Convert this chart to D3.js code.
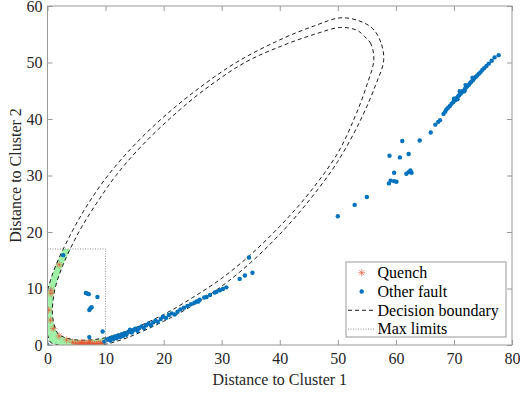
<!DOCTYPE html>
<html>
<head>
<meta charset="utf-8">
<script src="https://cdn.jsdelivr.net/npm/d3@7"></script>
<style>
  body { margin: 0; background: #fff; }
  svg text { font-family: 'Liberation Serif', 'Times New Roman', serif; }
</style>
</head>
<body>
<div id="chart"></div>
<script>
const xTicks = [0, 10, 20, 30, 40, 50, 60, 70, 80];
const yTicks = [0, 10, 20, 30, 40, 50, 60];
const legendLabels = ['Quench', 'Other fault', 'Decision boundary', 'Max limits'];
const maxLimits = [10, 17];

// quench samples [d1, d2]
const quench = [
  [2.0, 14.2], [0.6, 9.7], [0.6, 9.1], [0.2, 6.2], [0.5, 4.4], [1.0, 2.9], [2.0, 1.6],
  [3.3, 0.9], [4.3, 0.5], [4.8, 0.3], [5.2, 0.2], [5.6, 0.35], [6.0, 0.15], [6.3, 0.3],
  [6.7, 0.2], [7.0, 0.35], [7.4, 0.2], [7.8, 0.3], [8.1, 0.15], [8.5, 0.3], [8.8, 0.25],
  [9.2, 0.35], [9.5, 0.3], [5.9, 0.45], [7.2, 0.5]
];

// other fault samples [d1, d2]
const other = [
  [0, 0], [2.7, 15.9],
  [6.6, 9.2], [6.9, 9.1], [7.1, 9.0], [8.6, 8.5], [7.2, 6.2], [7.4, 6.5], [7.6, 6.7],
  [7.2, 1.4], [9.5, 2.4],
  [9.8, 0.6], [10.2, 0.9], [10.5, 1.1], [10.8, 0.8], [11.0, 1.3], [11.3, 1.0], [11.6, 1.5],
  [11.9, 1.2], [12.2, 1.7], [12.5, 1.4], [12.8, 1.9], [13.0, 1.6], [13.3, 2.1], [13.6, 1.8],
  [13.9, 2.3], [14.2, 2.7], [14.5, 2.2], [14.8, 2.6], [15.1, 2.9], [15.5, 2.5], [15.8, 3.0],
  [16.2, 3.3], [16.6, 3.0], [17.0, 3.5], [17.4, 3.8], [17.8, 3.5], [18.2, 4.0], [18.6, 4.3],
  [19.0, 4.1], [19.5, 4.6], [19.9, 5.0], [20.4, 4.8], [20.9, 5.3], [21.4, 5.6], [21.9, 5.4],
  [22.4, 5.9], [22.9, 6.3], [23.5, 6.6], [24.1, 6.9], [24.7, 7.2], [25.3, 7.5], [25.7, 7.7],
  [26.0, 7.7], [26.2, 8.0], [27.0, 8.4], [27.4, 8.5], [28.0, 8.85], [28.8, 9.3], [29.1, 9.4],
  [29.7, 9.7], [30.2, 9.9], [30.8, 10.2], [33.1, 11.7], [34.0, 12.3], [35.3, 12.8], [34.7, 15.5],
  [50.0, 22.8], [52.9, 24.8], [55.0, 26.2],
  [58.8, 28.6], [59.1, 29.1], [59.7, 29.0], [60.1, 28.9], [59.7, 30.5], [61.8, 30.3],
  [62.2, 30.6], [62.5, 30.9], [62.7, 30.5], [58.9, 33.5], [60.7, 33.2], [62.2, 33.8],
  [61.1, 36.1], [64.1, 36.2], [66.0, 37.6],
  [66.8, 39.0], [67.3, 39.5], [67.6, 39.8], [68.2, 40.9], [68.5, 41.3], [68.7, 41.7],
  [69.0, 42.0], [69.3, 42.3], [69.6, 42.7], [69.9, 43.0], [70.2, 43.3], [70.4, 43.7],
  [70.7, 44.0], [70.9, 44.2], [71.2, 44.5], [71.4, 44.8], [71.6, 45.0], [71.9, 45.3],
  [72.1, 45.6], [72.3, 45.8], [72.6, 46.1], [72.8, 46.4], [73.0, 46.6], [73.3, 46.9],
  [73.5, 47.2], [73.8, 47.5], [74.0, 47.7], [74.3, 48.0], [74.6, 48.3], [74.9, 48.7],
  [75.2, 49.0], [75.6, 49.4], [76.0, 49.8], [76.5, 50.3], [77.0, 50.9], [77.7, 51.3],
  [70.0, 43.6], [71.0, 44.9], [72.0, 46.0], [73.2, 47.3], [71.8, 44.9], [70.6, 43.5]
];

// decision boundary, outer and inner contour [d1, d2]
const outerBoundary = [
  [57.9, 50.4], [57.4, 53.6], [56, 56], [53.6, 57.4], [50.4, 57.9], [46, 56.5], [40, 54],
  [32.5, 50], [25.5, 45], [19.6, 40], [14.6, 35], [10.4, 30], [7.0, 25], [4.2, 20],
  [1.4, 14], [0.1, 10], [-0.45, 7], [-0.5, 5], [-0.3, 3], [0.1, 1.5], [0.5, 0.5],
  [1.5, 0.1], [3, -0.3], [5, -0.5], [7, -0.45], [10, 0.1], [14, 1.4], [20, 4.2], [25, 7.0],
  [30, 10.4], [35, 14.6], [40, 19.6], [45, 25.5], [50, 32.5], [54, 40], [56.5, 46]
];
const innerBoundary = [
  [56.2, 50.5], [55.7, 53.3], [54.6, 54.6], [53.3, 55.7], [50.5, 56.2], [46, 55], [40.5, 53],
  [34, 50], [26.8, 45], [21, 40], [16, 35], [11.8, 30], [8.4, 25], [5.4, 20], [2.6, 14],
  [1.3, 10], [0.9, 7.3], [0.85, 5.5], [1.05, 4], [1.4, 2.8], [1.9, 1.9], [2.8, 1.4],
  [4, 1.05], [5.5, 0.85], [7.3, 0.9], [10, 1.3], [14, 2.6], [20, 5.4], [25, 8.4], [30, 11.8],
  [35, 16], [40, 21], [45, 26.8], [50, 34], [53, 40.5], [55, 46]
];

const width = 520;
const height = 395;
const margin = {top: 6, right: 8, bottom: 50, left: 47.5};

const svg = d3.select('#chart').append('svg')
  .attr('width', width)
  .attr('height', height);

const x = d3.scaleLinear().domain([0, 80]).range([margin.left, width - margin.right]);
const y = d3.scaleLinear().domain([0, 60]).range([height - margin.bottom, margin.top]);

const defs = svg.append('defs');
defs.append('clipPath').attr('id', 'plot-clip')
  .append('rect')
  .attr('x', x(0)).attr('y', y(60))
  .attr('width', x(80) - x(0)).attr('height', y(0) - y(60));
defs.append('clipPath').attr('id', 'box-clip')
  .append('rect')
  .attr('x', x(0)).attr('y', y(maxLimits[1]))
  .attr('width', x(maxLimits[0]) - x(0)).attr('height', y(0) - y(maxLimits[1]));

const contour = d3.line()
  .x(d => x(d[0]))
  .y(d => y(d[1]))
  .curve(d3.curveCatmullRomClosed);

// green band between the two contours inside the max limits
svg.append('path')
  .attr('clip-path', 'url(#box-clip)')
  .attr('d', contour(outerBoundary) + contour(innerBoundary))
  .attr('fill', 'rgb(160,242,168)')
  .attr('fill-rule', 'evenodd');

const plot = svg.append('g').attr('clip-path', 'url(#plot-clip)');

plot.selectAll('path.boundary')
  .data([outerBoundary, innerBoundary])
  .join('path')
  .attr('class', 'boundary')
  .attr('d', d => contour(d))
  .attr('fill', 'none')
  .attr('stroke', '#000')
  .attr('stroke-width', 0.9)
  .attr('stroke-dasharray', '4,3');

plot.append('path')
  .attr('d', `M${x(0)},${y(maxLimits[1])}H${x(maxLimits[0])}V${y(0)}`)
  .attr('fill', 'none')
  .attr('stroke', '#808080')
  .attr('stroke-width', 0.9)
  .attr('stroke-dasharray', '1,1.5');

const star = r => `M${-r},0H${r}M0,${-r}V${r}M${-0.7 * r},${-0.7 * r}L${0.7 * r},${0.7 * r}M${-0.7 * r},${0.7 * r}L${0.7 * r},${-0.7 * r}`;

plot.append('g')
  .selectAll('path')
  .data(quench)
  .join('path')
  .attr('transform', d => `translate(${x(d[0])},${y(d[1])})`)
  .attr('d', star(3.6))
  .attr('fill', 'none')
  .attr('stroke', '#ee5030')
  .attr('stroke-opacity', 0.6)
  .attr('stroke-width', 1);

plot.append('g')
  .selectAll('circle')
  .data(other)
  .join('circle')
  .attr('cx', d => x(d[0]))
  .attr('cy', d => y(d[1]))
  .attr('r', 2.2)
  .attr('fill', '#0072BD');

// axes, ticks inside on all four sides
const axisColor = '#999';
svg.append('g')
  .attr('transform', `translate(0,${y(0)})`)
  .call(d3.axisBottom(x).tickValues(xTicks).tickSizeInner(-5).tickSizeOuter(0).tickPadding(8));
svg.append('g')
  .attr('transform', `translate(${x(0)},0)`)
  .call(d3.axisLeft(y).tickValues(yTicks).tickSizeInner(-5).tickSizeOuter(0).tickPadding(5));
svg.append('g')
  .attr('transform', `translate(0,${y(60)})`)
  .call(d3.axisTop(x).tickValues(xTicks).tickSizeInner(-5).tickSizeOuter(0).tickFormat(''));
svg.append('g')
  .attr('transform', `translate(${x(80)},0)`)
  .call(d3.axisRight(y).tickValues(yTicks).tickSizeInner(-5).tickSizeOuter(0).tickFormat(''));

svg.selectAll('.domain').remove();
svg.selectAll('.tick line').attr('stroke', axisColor);
svg.selectAll('.tick text')
  .attr('fill', '#262626')
  .style('font-size', '16px')
  .style('font-family', "'Liberation Serif', serif");

svg.append('rect')
  .attr('x', x(0)).attr('y', y(60))
  .attr('width', x(80) - x(0)).attr('height', y(0) - y(60))
  .attr('fill', 'none')
  .attr('stroke', axisColor)
  .attr('stroke-width', 1);

svg.append('text')
  .attr('x', (x(0) + x(80)) / 2)
  .attr('y', 385)
  .attr('text-anchor', 'middle')
  .attr('fill', '#262626')
  .style('font-size', '16px')
  .text('Distance to Cluster 1');

svg.append('text')
  .attr('transform', `translate(21,${(y(0) + y(60)) / 2}) rotate(-90)`)
  .attr('text-anchor', 'middle')
  .attr('fill', '#262626')
  .style('font-size', '16px')
  .text('Distance to Cluster 2');

// legend
const lg = svg.append('g').attr('transform', 'translate(346,262)');
lg.append('rect')
  .attr('width', 160).attr('height', 75)
  .attr('fill', '#fff')
  .attr('stroke', axisColor)
  .attr('stroke-width', 1);

const rowY = i => 10.7 + i * 18.8;
lg.append('path')
  .attr('transform', `translate(15.7,${rowY(0)})`)
  .attr('d', star(3.6))
  .attr('fill', 'none')
  .attr('stroke', '#ee5030')
  .attr('stroke-opacity', 0.6);
lg.append('circle')
  .attr('cx', 15.7).attr('cy', rowY(1)).attr('r', 2.2)
  .attr('fill', '#0072BD');
lg.append('line')
  .attr('x1', 2).attr('x2', 29).attr('y1', rowY(2)).attr('y2', rowY(2))
  .attr('stroke', '#000').attr('stroke-width', 0.9).attr('stroke-dasharray', '4,3');
lg.append('line')
  .attr('x1', 2).attr('x2', 29).attr('y1', rowY(3)).attr('y2', rowY(3))
  .attr('stroke', '#808080').attr('stroke-width', 0.9).attr('stroke-dasharray', '1,1.5');

lg.selectAll('text.label')
  .data(legendLabels)
  .join('text')
  .attr('class', 'label')
  .attr('x', 31.5)
  .attr('y', (d, i) => rowY(i))
  .attr('dy', '0.33em')
  .attr('fill', '#000')
  .style('font-size', '16px')
  .text(d => d);
</script>
</body>
</html>
